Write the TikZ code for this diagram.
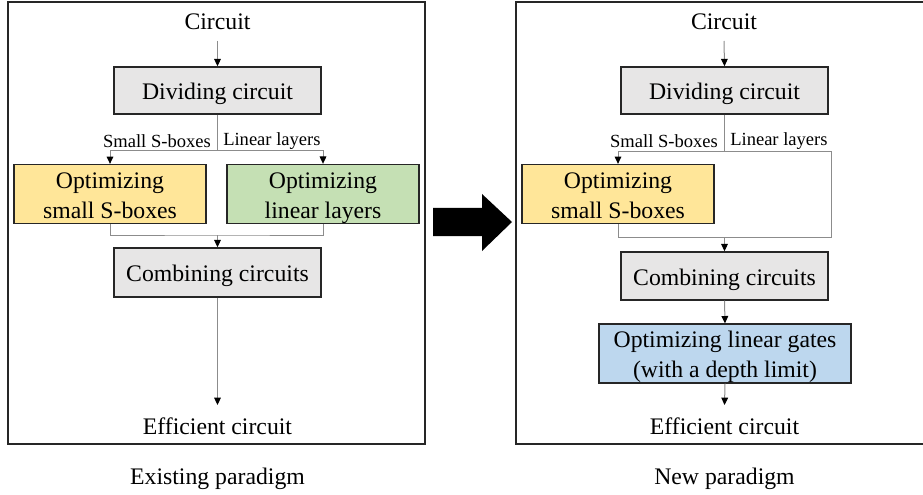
\documentclass[tikz,border=0pt]{standalone}
\usepackage{fontspec}
\setmainfont{Liberation Serif}
\usetikzlibrary{arrows.meta}
\definecolor{boxgray}{HTML}{E7E6E6}
\definecolor{boxyellow}{HTML}{FFE699}
\definecolor{boxgreen}{HTML}{C5E0B4}
\definecolor{boxblue}{HTML}{BDD7EE}
\definecolor{linegray}{HTML}{8C8C8C}
\definecolor{edgedark}{HTML}{262626}
\newcommand\mystrut{\rule[-3.75pt]{0pt}{21.5pt}}
\tikzset{
  big/.style={font=\fontsize{17.8}{21.5}\selectfont},
  small/.style={font=\fontsize{13.9}{16}\selectfont, inner sep=0pt},
  procbox/.style={draw=edgedark, line width=1.1pt, rectangle, inner sep=0pt, align=center, big},
  plain/.style={inner sep=0pt, big},
  conn/.style={draw=linegray, line width=0.75pt},
  arr/.style={conn, -{Triangle[length=5.5pt,width=5pt,color=black]}},
  frame/.style={draw=edgedark, line width=1pt}
}
\begin{document}
\begin{tikzpicture}[x=0.75pt,y=-0.75pt]
\useasboundingbox (0,0) rectangle (923,495);
\clip (0,0) rectangle (923,495);
% frames
\draw[frame] (8,2) rectangle (425,444);
\draw[frame] (516,2) rectangle (935,444);

% ---------- left ----------
\node[plain] (circ1) at (217.5,22) {Circuit};
\node[procbox, fill=boxgray, minimum width=207*0.75pt, minimum height=47*0.75pt] (div1) at (217.5,90.5) {Dividing circuit\mystrut};
\node[procbox, fill=boxyellow, minimum width=192*0.75pt, minimum height=56*0.75pt] (ys1) at (110,194) {\mystrut Optimizing\\\mystrut small S-boxes};
\node[procbox, fill=boxgreen, minimum width=192*0.75pt, minimum height=56*0.75pt] (gl1) at (323,194) {\mystrut Optimizing\\\mystrut linear layers};
\node[procbox, fill=boxgray, minimum width=207*0.75pt, minimum height=49*0.75pt] (comb1) at (217.5,272.5) {Combining circuits\mystrut};
\node[plain] (eff1) at (217.5,426) {Efficient circuit};
\node[plain] (lab1) at (217.5,479) {Existing paradigm};
\node[small, anchor=east] (sl1) at (211,141) {Small S-boxes};
\node[small, anchor=west] (ll1) at (223,141) {Linear layers};
\coordinate (sp1) at (217.5,151);
\coordinate (jn1) at (217.5,235);

\draw[arr] (circ1.south |- 0,41) -- (div1.north);
\draw[conn] (div1.south) -- (sp1);
\draw[arr] (sp1) -| (ys1.north);
\draw[arr] (sp1) -| (gl1.north);
\draw[conn] (ys1.south) |- (jn1) -| (gl1.south);
\draw[arr] (jn1) -- (comb1.north);
\draw[arr] (comb1.south) -- (eff1.north |- 0,405);

% ---------- right ----------
\node[plain] (circ2) at (724,22) {Circuit};
\node[procbox, fill=boxgray, minimum width=207*0.75pt, minimum height=47*0.75pt] (div2) at (724.5,90.5) {Dividing circuit\mystrut};
\node[procbox, fill=boxyellow, minimum width=192*0.75pt, minimum height=56*0.75pt] (ys2) at (618,194) {\mystrut Optimizing\\\mystrut small S-boxes};
\node[procbox, fill=boxgray, minimum width=207*0.75pt, minimum height=48*0.75pt] (comb2) at (724.5,276) {Combining circuits\mystrut};
\node[procbox, fill=boxblue, minimum width=252*0.75pt, minimum height=57*0.75pt] (opt2) at (725,353.5) {\mystrut Optimizing linear gates\\\mystrut (with a depth limit)};
\node[plain] (eff2) at (724.5,426) {Efficient circuit};
\node[plain] (lab2) at (724.5,479) {New paradigm};
\node[small, anchor=east] (sl2) at (718,141) {Small S-boxes};
\node[small, anchor=west] (ll2) at (730,141) {Linear layers};
\coordinate (sp2) at (724.5,152);
\coordinate (rc2) at (831,152);
\coordinate (jn2) at (724.5,237);

\draw[arr] (circ2.south |- 0,41) -- (div2.north);
\draw[conn] (div2.south) -- (sp2);
\draw[arr] (sp2) -| (ys2.north);
\draw[conn] (sp2) -- (rc2) |- (jn2);
\draw[conn] (ys2.south) |- (jn2);
\draw[arr] (jn2) -- (comb2.north);
\draw[arr] (comb2.south) -- (opt2.north);
\draw[arr] (opt2.south) -- (eff2.north |- 0,405);

% ---------- big arrow ----------
\fill[black] (433,208) -- (482,208) -- (482,194) -- (512,222) -- (482,251) -- (482,236) -- (433,236) -- cycle;
\end{tikzpicture}
\end{document}
